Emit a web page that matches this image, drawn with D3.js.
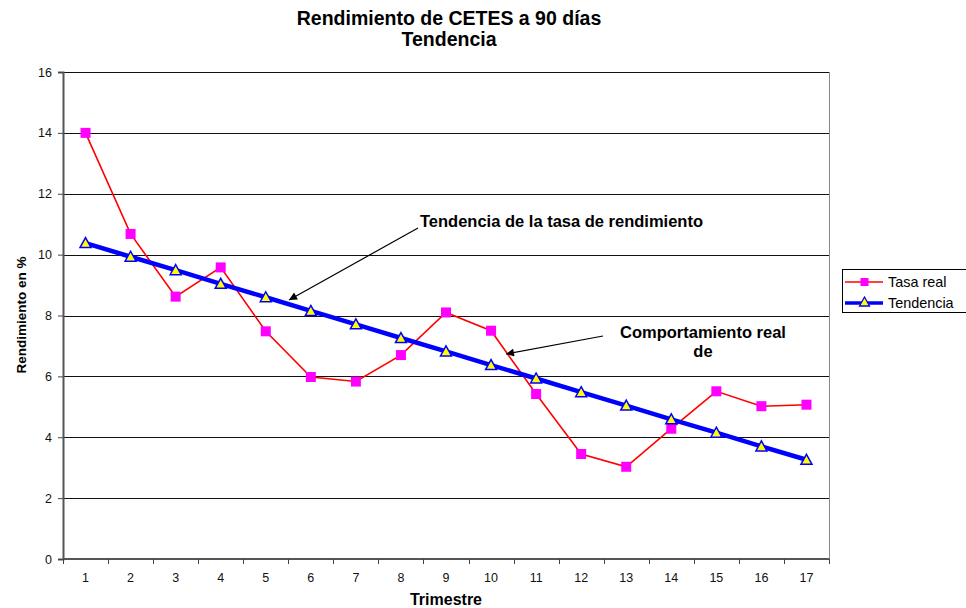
<!DOCTYPE html>
<html><head><meta charset="utf-8">
<script src="https://cdn.jsdelivr.net/npm/d3@7"></script>
<style>body{margin:0;background:#fff}svg{font-family:"Liberation Sans",Arial,sans-serif}</style>
</head><body><svg id="c" width="966" height="608"></svg>
<script>
const categories = ["1","2","3","4","5","6","7","8","9","10","11","12","13","14","15","16","17"];
const tasaReal = [14.0,10.68,8.62,9.58,7.48,5.98,5.83,6.70,8.10,7.50,5.42,3.45,3.03,4.28,5.51,5.02,5.07];
const tendencia = [10.38,9.93,9.49,9.04,8.60,8.15,7.71,7.26,6.82,6.37,5.93,5.48,5.04,4.59,4.15,3.70,3.26];
const yTicks = [0,2,4,6,8,10,12,14,16];
const seriesNames = ["Tasa real","Tendencia"];

const svg = d3.select("#c");
const L=63,R=829,T=72,B=559;
const x = d3.scaleBand().domain(categories).range([L,R]);
const y = d3.scaleLinear().domain([0,16]).range([B,T]);
const cx = d=>x(d)+x.bandwidth()/2;

// gridlines
svg.append("g").selectAll("line").data(yTicks.filter(v=>v>0)).join("line")
  .attr("x1",L).attr("x2",R).attr("y1",d=>Math.round(y(d))+0.5).attr("y2",d=>Math.round(y(d))+0.5)
  .attr("stroke","#111").attr("stroke-width",1);
// right border
svg.append("line").attr("x1",R+0.5).attr("x2",R+0.5).attr("y1",T).attr("y2",B).attr("stroke","#888");

// axes
const yAxis = svg.append("g").attr("transform",`translate(${L},0)`)
  .call(d3.axisLeft(y).tickValues(yTicks).tickSize(5).tickPadding(6).tickFormat(d3.format("d")));
const xAxis = svg.append("g").attr("transform",`translate(0,${B})`)
  .call(d3.axisBottom(x).tickSize(0).tickPadding(14));
svg.append("g").selectAll("line").data(d3.range(categories.length+1)).join("line")
  .attr("x1",i=>Math.round(L+i*x.step())+0.5).attr("x2",i=>Math.round(L+i*x.step())+0.5)
  .attr("y1",B).attr("y2",B+5).attr("stroke","#444");
[yAxis,xAxis].forEach(a=>{
  a.selectAll(".domain").attr("stroke","#555").attr("stroke-width",2);
  a.selectAll(".tick line").attr("stroke","#444");
  a.selectAll("text").attr("font-size",12.5).attr("fill","#111").attr("font-family","Liberation Sans, Arial");
});
xAxis.select(".domain").attr("d",`M${L},0H${R}`);

// Tasa real
svg.append("path").datum(tasaReal).attr("fill","none").attr("stroke","#ff0000").attr("stroke-width",1.6)
  .attr("d",d3.line().x((d,i)=>cx(categories[i])).y(d=>y(d)));
svg.append("g").selectAll("rect").data(tasaReal).join("rect")
  .attr("x",(d,i)=>cx(categories[i])-5).attr("y",d=>y(d)-5).attr("width",10).attr("height",10)
  .attr("fill","#ff00ff");

// Tendencia
svg.append("path").datum(tendencia).attr("fill","none").attr("stroke","#0000ff").attr("stroke-width",4.5)
  .attr("d",d3.line().x((d,i)=>cx(categories[i])).y(d=>y(d)));
const tri = "M0,-5.5L5.5,4.5L-5.5,4.5Z";
svg.append("g").selectAll("path").data(tendencia).join("path")
  .attr("transform",(d,i)=>`translate(${cx(categories[i])},${y(d)})`)
  .attr("d",tri).attr("fill","#ffff00").attr("stroke","#0000ff").attr("stroke-width",1.5);

// titles
const title = svg.append("text").attr("text-anchor","middle").attr("font-weight","bold").attr("font-size",19.5);
title.append("tspan").attr("x",449).attr("y",25).text("Rendimiento de CETES a 90 días");
title.append("tspan").attr("x",449).attr("y",46).text("Tendencia");
svg.append("text").attr("x",446).attr("y",605).attr("text-anchor","middle").attr("font-weight","bold").attr("font-size",16).text("Trimestre");
svg.append("text").attr("transform","translate(26,315) rotate(-90)").attr("text-anchor","middle").attr("font-weight","bold").attr("font-size",13.5).text("Rendimiento en %");

// annotations
svg.append("defs").append("marker").attr("id","ah").attr("viewBox","0 0 10 10").attr("refX",10).attr("refY",5)
  .attr("markerWidth",10).attr("markerHeight",8).attr("markerUnits","userSpaceOnUse").attr("orient","auto")
  .append("path").attr("d","M0,0L10,5L0,10Z").attr("fill","#000");
svg.append("line").attr("x1",418).attr("y1",228).attr("x2",289).attr("y2",300).attr("stroke","#000").attr("stroke-width",1.2).attr("marker-end","url(#ah)");
svg.append("line").attr("x1",603).attr("y1",336).attr("x2",506).attr("y2",354).attr("stroke","#000").attr("stroke-width",1.2).attr("marker-end","url(#ah)");
svg.append("text").attr("x",420).attr("y",227).attr("font-weight","bold").attr("font-size",16.5).text("Tendencia de la tasa de rendimiento");
const a2 = svg.append("text").attr("text-anchor","middle").attr("font-weight","bold").attr("font-size",16.5);
a2.append("tspan").attr("x",703).attr("y",338).text("Comportamiento real");
a2.append("tspan").attr("x",703).attr("y",357).text("de");

// legend
const lg = svg.append("g");
lg.append("rect").attr("x",842.5).attr("y",269.5).attr("width",140).attr("height",43).attr("fill","#fff").attr("stroke","#000");
lg.append("line").attr("x1",845).attr("x2",883).attr("y1",282).attr("y2",282).attr("stroke","#ff0000").attr("stroke-width",1.6);
lg.append("rect").attr("x",860.5).attr("y",278).attr("width",8).attr("height",8).attr("fill","#ff00ff");
lg.append("line").attr("x1",845).attr("x2",883).attr("y1",303).attr("y2",303).attr("stroke","#0000ff").attr("stroke-width",3.5);
lg.append("path").attr("transform","translate(864.5,302)").attr("d","M0,-5L5,4L-5,4Z").attr("fill","#ffff00").attr("stroke","#0000ff").attr("stroke-width",1.3);
lg.append("text").attr("x",888).attr("y",287).attr("font-size",14.4).text(seriesNames[0]);
lg.append("text").attr("x",888).attr("y",308).attr("font-size",14.4).text(seriesNames[1]);
</script></body></html>
